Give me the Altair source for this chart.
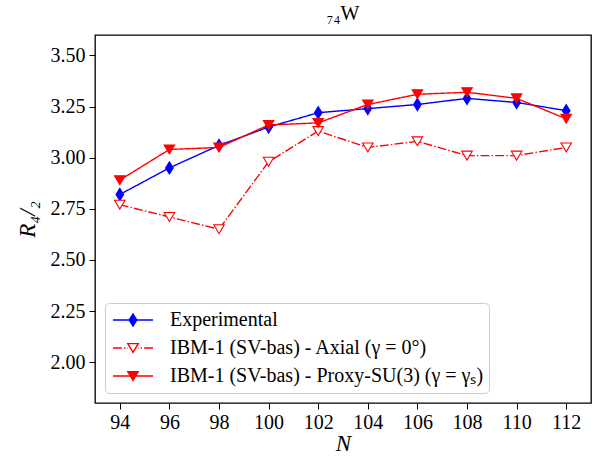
import altair as alt
import pandas as pd

# ---- data ----
N_VALUES = [94, 96, 98, 100, 102, 104, 106, 108, 110, 112]
EXPERIMENTAL = [2.82, 2.95, 3.06, 3.15, 3.22, 3.24, 3.26, 3.29, 3.27, 3.23]
AXIAL = [2.77, 2.71, 2.65, 2.98, 3.13, 3.05, 3.08, 3.01, 3.01, 3.05]
PROXY = [2.89, 3.04, 3.05, 3.16, 3.17, 3.26, 3.31, 3.32, 3.29, 3.19]

S_EXP = "Experimental"
S_AX = "IBM-1 (SV-bas) - Axial (γ = 0°)"
S_PR = "IBM-1 (SV-bas) - Proxy-SU(3) (γ = γₛ)"
SERIES = [S_EXP, S_AX, S_PR]
X_TICKS = [94, 96, 98, 100, 102, 104, 106, 108, 110, 112]
Y_TICKS = [2.00, 2.25, 2.50, 2.75, 3.00, 3.25, 3.50]

rows = []
for s, vals in zip(SERIES, [EXPERIMENTAL, AXIAL, PROXY]):
    for n, v in zip(N_VALUES, vals):
        rows.append({"N": n, "R": v, "series": s})
df = pd.DataFrame(rows)

FONT = "Liberation Serif, Times New Roman, serif"
BLUE = "#0000ff"
RED = "#ff0000"

# marker paths
DIAMOND = "M0,-1L0.62,0L0,1L-0.62,0Z"
TRI_DOWN = "M-1,-0.85L1,-0.85L0,0.85Z"

# legend symbol paths (unit = 20 px): line + marker
LEG_EXP = "M-1,0L1,0M0,-0.3L0.19,0L0,0.3L-0.19,0Z"
LEG_AX = ("M-1,0L-0.56,0M-0.45,0L-0.38,0M-0.27,0L-0.25,0"
          "M0.25,0L0.27,0M0.38,0L0.45,0M0.56,0L1,0"
          "M-0.26,-0.22L0.26,-0.22L0,0.22Z")
LEG_PR = "M-1,0L1,0M-0.26,-0.22L0.26,-0.22L0,0.22Z"

legend = alt.Legend(
    title=None,
    orient="bottom-left",
    offset=10,
    symbolSize=1600,
    clipHeight=24,
    rowPadding=4,
    padding=5,
    symbolOffset=2,
    labelOffset=16,
    labelFont=FONT,
    labelFontSize=20,
    labelColor="black",
    labelLimit=600,
    fillColor="rgba(255,255,255,0.8)",
    strokeColor="#cccccc",
    cornerRadius=4,
    symbolStrokeWidth=1.4,
    symbolOpacity=1,
)

x_enc = alt.X(
    "N:Q",
    scale=alt.Scale(domain=[93, 113], nice=False, zero=False),
    axis=alt.Axis(values=X_TICKS, title="N", format="d"),
)
y_enc = alt.Y(
    "R:Q",
    scale=alt.Scale(domain=[1.8, 3.6], nice=False, zero=False),
    axis=alt.Axis(values=Y_TICKS, title="R₄/₂", format=".2f"),
)

# legend-only layer (draws no marks; provides the merged legend)
leg_layer = alt.Chart(df).transform_filter("false").mark_point(
    filled=False, strokeWidth=1.4, opacity=1
).encode(
    x=x_enc,
    y=y_enc,
    stroke=alt.Stroke("series:N", scale=alt.Scale(domain=SERIES, range=[BLUE, RED, RED]), legend=legend),
    fill=alt.Fill("series:N", scale=alt.Scale(domain=SERIES, range=[BLUE, "white", RED]), legend=legend),
    shape=alt.Shape("series:N", scale=alt.Scale(domain=SERIES, range=[LEG_EXP, LEG_AX, LEG_PR]), legend=legend),
)

styles = {
    S_EXP: dict(color=BLUE, dash=[1, 0], shape=DIAMOND, size=150, fill=BLUE),
    S_AX: dict(color=RED, dash=[8.9, 2.2, 1.4, 2.2], shape=TRI_DOWN, size=110, fill="white"),
    S_PR: dict(color=RED, dash=[1, 0], shape=TRI_DOWN, size=110, fill=RED),
}
layers = [leg_layer]
for s in SERIES:
    st = styles[s]
    base = alt.Chart(df).transform_filter(alt.datum.series == s)
    line = base.mark_line(
        strokeWidth=1.4, strokeDash=st["dash"], color=st["color"]
    ).encode(x=x_enc, y=y_enc)
    pts = base.mark_point(
        shape=st["shape"], size=st["size"], filled=False, opacity=1,
        stroke=st["color"], fill=st["fill"], fillOpacity=1, strokeWidth=1.1
    ).encode(x=x_enc, y=y_enc)
    layers += [line, pts]

chart = alt.layer(*layers).properties(
    width=496,
    height=368,
    autosize=alt.AutoSizeParams(type="none"),
    padding={"left": 95, "top": 35, "right": 9, "bottom": 53},
    title=alt.TitleParams(
        "₇₄W", font=FONT, fontSize=20, fontWeight="normal", color="black", offset=11
    ),
).configure_view(
    stroke="black", strokeWidth=1.3
).configure_axis(
    grid=False,
    domain=False,
    tickColor="black",
    tickSize=6,
    tickWidth=1,
    labelFont=FONT,
    labelFontSize=20,
    labelColor="black",
    titleFont=FONT,
    titleFontSize=23,
    titleFontStyle="italic",
    titleFontWeight="normal",
    titleColor="black",
).configure_axisX(
    labelPadding=3, titlePadding=0
).configure_axisY(
    labelPadding=4, titlePadding=11
)

chart.save("out.html", embed_options={"renderer": "svg", "actions": False})
